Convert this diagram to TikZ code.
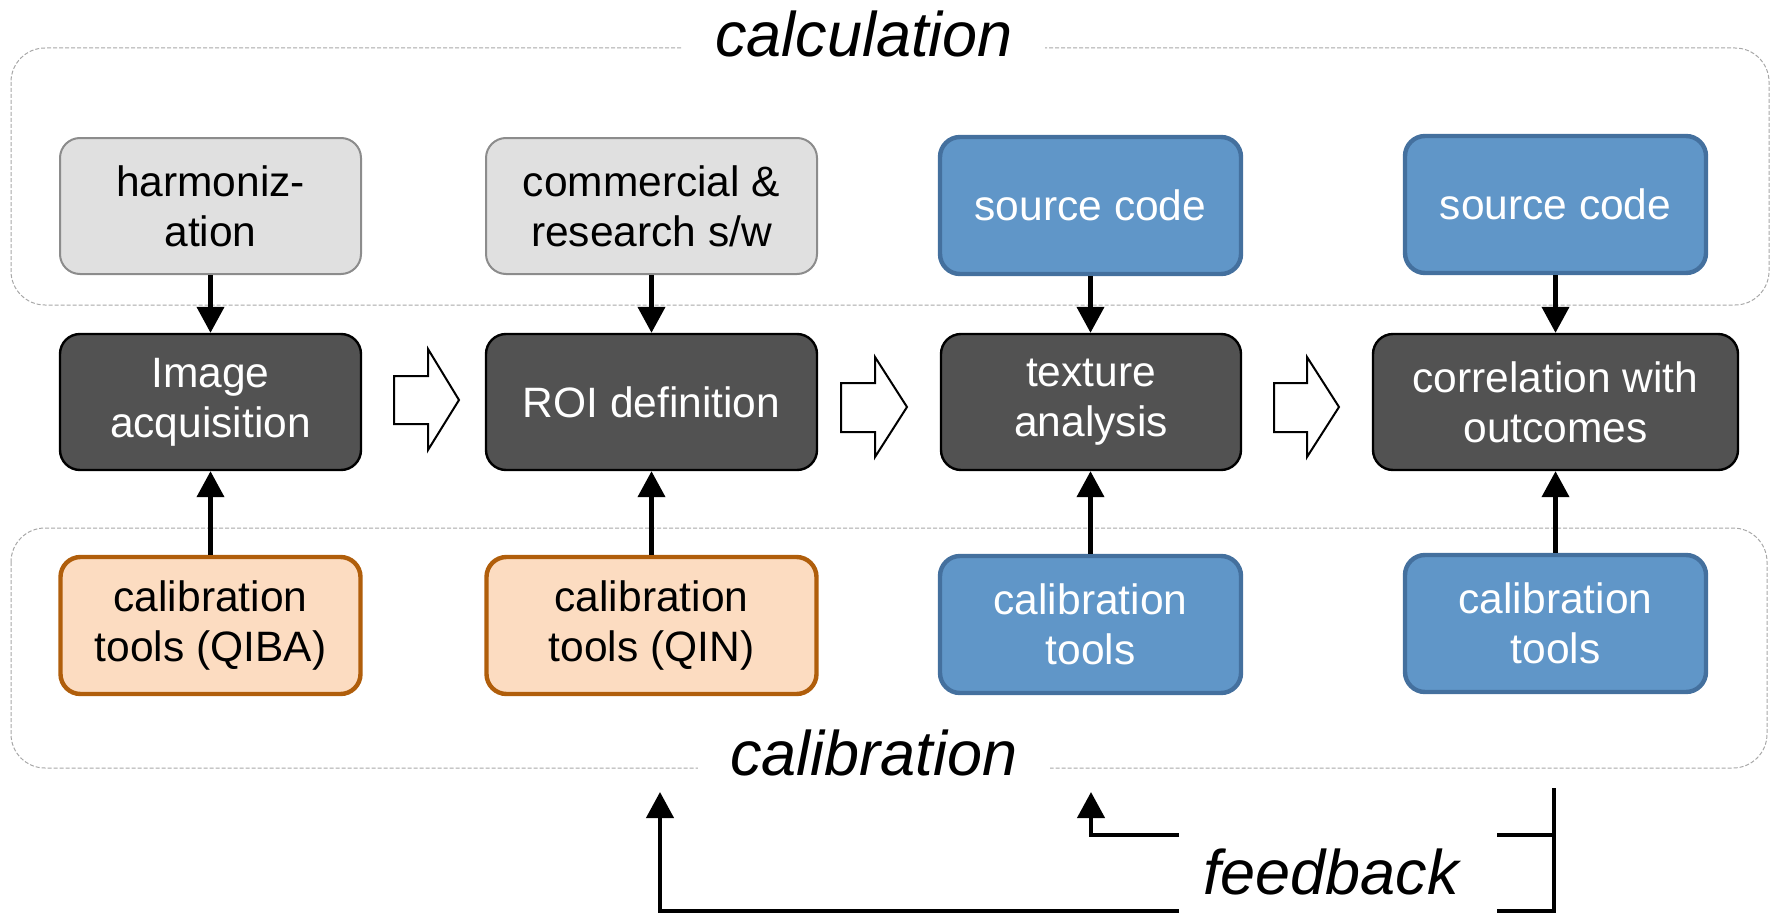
\documentclass[tikz,border=0pt]{standalone}
\usepackage{fontspec}
\setmainfont{Liberation Sans}
\usetikzlibrary{arrows.meta}
\definecolor{boxgray}{HTML}{E0E0E0}
\definecolor{boxgrayline}{HTML}{8C8C8C}
\definecolor{boxdark}{HTML}{525252}
\definecolor{boxblue}{HTML}{6096C8}
\definecolor{boxblueline}{HTML}{44709E}
\definecolor{boxorange}{HTML}{FCDCC1}
\definecolor{boxorangeline}{HTML}{B05E0B}
\definecolor{regionline}{HTML}{A8A8A8}
\begin{document}
\begin{tikzpicture}[x=0.5pt,y=-0.5pt,
  basebox/.style={rectangle, rounded corners=10pt, align=center,
    font=\fontsize{21.25pt}{25pt}\selectfont, inner sep=0pt},
  graybox/.style={basebox, fill=boxgray, draw=boxgrayline, line width=1pt},
  darkbox/.style={basebox, fill=boxdark, draw=black, line width=1.2pt, text=white},
  bluebox/.style={basebox, fill=boxblue, draw=boxblueline, line width=2.2pt, text=white},
  orangebox/.style={basebox, fill=boxorange, draw=boxorangeline, line width=2.2pt},
  conn/.style={line width=2.1pt, -{Triangle[length=13pt,width=13.5pt]}},
  fbline/.style={line width=2pt},
  region/.style={draw=regionline, line width=0.5pt, dash pattern=on 2pt off 1pt, rounded corners=17pt},
  biglabel/.style={font=\fontsize{31.5pt}{38pt}\selectfont\itshape, fill=white,
    inner xsep=16pt, inner ysep=2pt, anchor=base},
  blockarrow/.style={draw=black, fill=white, line width=1pt, line join=miter}
]
\useasboundingbox (0,0) rectangle (1771,915);

% regions
\draw[region] (11,48) rectangle (1769,305);
\draw[region] (11,528) rectangle (1767,768);
\node[biglabel] (calc) at (864,57) {calculation};
\node[biglabel] (calib) at (874,775) {calibration};

% top row
\node[graybox, minimum width=150.5pt, minimum height=68pt] (harm) at (210.5,206) {harmoniz-\\ation};
\node[graybox, minimum width=165.5pt, minimum height=68pt] (comm) at (651.5,206) {commercial \&\\research s/w};
\node[bluebox, minimum width=150.5pt, minimum height=68.5pt] (src1) at (1090.5,205.5) {source code};
\node[bluebox, minimum width=150.5pt, minimum height=68.5pt] (src2) at (1555.5,204.5) {source code};

% middle row
\node[darkbox, minimum width=150.5pt, minimum height=68pt] (img) at (210.5,402) {Image\\acquisition};
\node[darkbox, minimum width=165.5pt, minimum height=68pt] (roi) at (651.5,402) {ROI definition};
\node[darkbox, minimum width=150pt, minimum height=68pt] (tex) at (1091,402) {texture\\analysis};
\node[darkbox, minimum width=182.5pt, minimum height=68pt] (corr) at (1555.5,402) {correlation with\\outcomes};

% bottom row
\node[orangebox, minimum width=150pt, minimum height=68.5pt] (qiba) at (210.5,625.5) {calibration\\tools (QIBA)};
\node[orangebox, minimum width=165pt, minimum height=68.5pt] (qin) at (651.5,625.5) {calibration\\tools (QIN)};
\node[bluebox, minimum width=150.5pt, minimum height=68.5pt] (cal1) at (1090.5,624.5) {calibration\\tools};
\node[bluebox, minimum width=150.5pt, minimum height=68.5pt] (cal2) at (1555.5,623.5) {calibration\\tools};

% vertical arrows
\draw[conn] (harm.south) -- (img.north);
\draw[conn] (comm.south) -- (roi.north);
\draw[conn] (src1.south) -- (src1.south |- tex.north);
\draw[conn] (src2.south) -- (src2.south |- corr.north);
\draw[conn] (qiba.north) -- (img.south);
\draw[conn] (qin.north) -- (roi.south);
\draw[conn] (cal1.north) -- (cal1.north |- tex.south);
\draw[conn] (cal2.north) -- (cal2.north |- corr.south);

% block arrows
\draw[blockarrow] (394,376) -- (428,376) -- (428,349) -- (459,400) -- (428,450) -- (428,424) -- (394,424) -- cycle;
\draw[blockarrow] (841,383) -- (875,383) -- (875,357) -- (907,407) -- (875,457) -- (875,432) -- (841,432) -- cycle;
\draw[blockarrow] (1274,383) -- (1307,383) -- (1307,357) -- (1339,407) -- (1307,457) -- (1307,432) -- (1274,432) -- cycle;

% feedback
\node[font=\fontsize{31.5pt}{38pt}\selectfont\itshape, anchor=base, inner sep=0pt] (fb) at (1331,894) {feedback};
\coordinate (fbTop) at (1554,788);
\coordinate (fbR1) at (1554,835);
\coordinate (fbR2) at (1554,911);
\coordinate (fbG1e) at (1497,835);
\coordinate (fbG1w) at (1179,835);
\coordinate (fbG2e) at (1497,911);
\coordinate (fbG2w) at (1179,911);
\coordinate (fbMid) at (1091,835);
\coordinate (fbMidTip) at (1091,792);
\coordinate (fbLeft) at (660,911);
\coordinate (fbLeftTip) at (660,792);
\draw[fbline, line join=miter] (fbTop) -- (fbR2) -- (fbG2e);
\draw[fbline] (fbR1) -- (fbG1e);
\draw[conn] (fbG1w) -- (fbMid) -- (fbMidTip);
\draw[conn] (fbG2w) -- (fbLeft) -- (fbLeftTip);
\end{tikzpicture}
\end{document}
